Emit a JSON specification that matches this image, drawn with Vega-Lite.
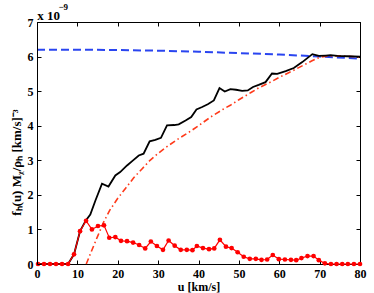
{
  "$schema": "https://vega.github.io/schema/vega-lite/v6.json",
  "autosize": {"type": "none"},
  "padding": {"left": 37, "top": 22, "right": 14, "bottom": 29},
  "width": 323,
  "height": 242,
  "background": "white",
  "config": {
    "view": {"stroke": "black", "strokeWidth": 1},
    "axis": {
      "grid": false,
      "domainColor": "black",
      "tickColor": "black",
      "labelColor": "black",
      "titleColor": "black",
      "labelFont": "Liberation Serif",
      "titleFont": "Liberation Serif",
      "labelFontWeight": "bold",
      "titleFontWeight": "bold",
      "labelFontSize": 12,
      "titleFontSize": 12,
      "tickSize": -4,
      "labelOverlap": false,
      "labelBound": false,
      "labelFlush": false
    }
  },
  "datasets": {
    "blue": [
      {"u": 0, "f": 6.2}, {"u": 10, "f": 6.2}, {"u": 20, "f": 6.19}, {"u": 30, "f": 6.17},
      {"u": 40, "f": 6.14}, {"u": 50, "f": 6.1}, {"u": 60, "f": 6.06}, {"u": 70, "f": 6.0}, {"u": 80, "f": 5.94}
    ],
    "dashdot": [
      {"u": 12.2, "f": 0}, {"u": 13.2, "f": 0.29}, {"u": 14.9, "f": 0.77}, {"u": 16.5, "f": 1.21},
      {"u": 18, "f": 1.55}, {"u": 20, "f": 1.9}, {"u": 22, "f": 2.2}, {"u": 24, "f": 2.5},
      {"u": 26, "f": 2.75}, {"u": 28, "f": 3.0}, {"u": 30, "f": 3.2}, {"u": 32, "f": 3.38},
      {"u": 35, "f": 3.62}, {"u": 38, "f": 3.84}, {"u": 40, "f": 4.0}, {"u": 43, "f": 4.25},
      {"u": 46, "f": 4.47}, {"u": 48, "f": 4.6}, {"u": 50, "f": 4.75}, {"u": 53, "f": 4.96},
      {"u": 55, "f": 5.1}, {"u": 58, "f": 5.27}, {"u": 60, "f": 5.4}, {"u": 63, "f": 5.57},
      {"u": 66, "f": 5.75}, {"u": 68, "f": 5.87}, {"u": 70, "f": 5.98}, {"u": 72, "f": 6.02},
      {"u": 75, "f": 6.02}, {"u": 78, "f": 6.0}, {"u": 80, "f": 5.98}
    ],
    "black": [
      {"u": 0.25, "f": 0}, {"u": 7.69, "f": 0}, {"u": 9.17, "f": 0.28}, {"u": 10.66, "f": 0.95},
      {"u": 12.1, "f": 1.26}, {"u": 13.2, "f": 1.43}, {"u": 14.45, "f": 1.83}, {"u": 16.1, "f": 2.32},
      {"u": 17.7, "f": 2.24}, {"u": 19.4, "f": 2.56}, {"u": 20.6, "f": 2.66}, {"u": 22.3, "f": 2.85},
      {"u": 23.5, "f": 2.97}, {"u": 25.2, "f": 3.14}, {"u": 26.4, "f": 3.19}, {"u": 27.9, "f": 3.55},
      {"u": 29.3, "f": 3.59}, {"u": 30.7, "f": 3.65}, {"u": 32.2, "f": 4.01}, {"u": 34.0, "f": 4.02},
      {"u": 35.1, "f": 4.04}, {"u": 36.8, "f": 4.15}, {"u": 38.2, "f": 4.25}, {"u": 39.5, "f": 4.47},
      {"u": 40.9, "f": 4.54}, {"u": 42.3, "f": 4.62}, {"u": 43.8, "f": 4.73}, {"u": 45.2, "f": 5.09},
      {"u": 46.5, "f": 4.99}, {"u": 47.9, "f": 5.06}, {"u": 49.3, "f": 5.04}, {"u": 50.8, "f": 5.01},
      {"u": 52.2, "f": 5.02}, {"u": 53.5, "f": 5.12}, {"u": 54.9, "f": 5.18}, {"u": 56.6, "f": 5.26},
      {"u": 58.2, "f": 5.51}, {"u": 59.5, "f": 5.5}, {"u": 61.6, "f": 5.58}, {"u": 63.6, "f": 5.67},
      {"u": 65.7, "f": 5.84}, {"u": 68.2, "f": 6.07}, {"u": 69.8, "f": 6.02}, {"u": 71.5, "f": 6.03},
      {"u": 72.7, "f": 6.04}, {"u": 74.4, "f": 6.02}, {"u": 76.8, "f": 6.01}, {"u": 80, "f": 6.0}
    ],
    "dots": [
      {"u": 0.25, "f": 0}, {"u": 1.74, "f": 0}, {"u": 3.22, "f": 0}, {"u": 4.71, "f": 0},
      {"u": 6.2, "f": 0}, {"u": 7.69, "f": 0}, {"u": 9.17, "f": 0.28}, {"u": 10.66, "f": 0.95},
      {"u": 12.15, "f": 1.25}, {"u": 13.6, "f": 1.0}, {"u": 15.1, "f": 1.1}, {"u": 16.6, "f": 1.12},
      {"u": 17.9, "f": 0.76}, {"u": 19.4, "f": 0.78}, {"u": 20.8, "f": 0.67}, {"u": 22.3, "f": 0.66},
      {"u": 23.8, "f": 0.62}, {"u": 25.3, "f": 0.55}, {"u": 26.8, "f": 0.45}, {"u": 28.2, "f": 0.65},
      {"u": 29.7, "f": 0.52}, {"u": 31.2, "f": 0.41}, {"u": 32.6, "f": 0.68}, {"u": 34.1, "f": 0.53},
      {"u": 35.6, "f": 0.41}, {"u": 37.1, "f": 0.41}, {"u": 38.5, "f": 0.4}, {"u": 39.6, "f": 0.52},
      {"u": 41.1, "f": 0.46}, {"u": 42.6, "f": 0.43}, {"u": 43.9, "f": 0.45}, {"u": 45.3, "f": 0.7},
      {"u": 46.8, "f": 0.5}, {"u": 48.2, "f": 0.46}, {"u": 49.7, "f": 0.34}, {"u": 51.2, "f": 0.21},
      {"u": 52.7, "f": 0.15}, {"u": 54.2, "f": 0.15}, {"u": 55.6, "f": 0.12}, {"u": 57.0, "f": 0.13},
      {"u": 58.4, "f": 0.26}, {"u": 59.9, "f": 0.14}, {"u": 61.4, "f": 0.13}, {"u": 62.9, "f": 0.12},
      {"u": 64.2, "f": 0.11}, {"u": 65.5, "f": 0.17}, {"u": 67.0, "f": 0.23}, {"u": 68.5, "f": 0.23},
      {"u": 69.8, "f": 0.11}, {"u": 71.3, "f": 0.02}, {"u": 72.8, "f": 0}, {"u": 74.2, "f": 0},
      {"u": 75.6, "f": 0}, {"u": 77.0, "f": 0}, {"u": 78.5, "f": 0}, {"u": 80, "f": 0}
    ],
    "notes": [
      {"u": 0.05, "f": 7.06, "label": "x 10", "size": 13},
      {"u": 5.3, "f": 7.34, "label": "−9", "size": 9}
    ]
  },
  "resolve": {"axis": {"x": "independent", "y": "independent"}},
  "layer": [
    {
      "data": {"name": "blue"},
      "mark": {"type": "line", "color": "#2a45f0", "strokeWidth": 2, "strokeDash": [8, 4]},
      "encoding": {
        "x": {"field": "u", "type": "quantitative",
              "scale": {"domain": [0, 80], "nice": false},
              "axis": {"orient": "bottom", "values": [0, 10, 20, 30, 40, 50, 60, 70, 80], "title": "u [km/s]", "labelPadding": 8, "titlePadding": 2, "labelOverlap": false, "labelBound": false, "labelFlush": false}},
        "y": {"field": "f", "type": "quantitative",
              "scale": {"domain": [0, 7], "nice": false},
              "axis": {"orient": "left", "values": [0, 1, 2, 3, 4, 5, 6, 7], "title": "fₕ(u) Mᵪ/ρₕ [km/s]⁻³", "titleFontSize": 13, "labelPadding": 8, "titleY": 140, "labelOverlap": false, "labelBound": false, "labelFlush": false, "zindex": 2}}
      }
    },
    {
      "data": {"name": "blue"},
      "mark": {"type": "line", "opacity": 0},
      "encoding": {
        "x": {"field": "u", "type": "quantitative",
              "axis": {"orient": "top", "values": [0, 10, 20, 30, 40, 50, 60, 70, 80], "labels": false, "title": null}},
        "y": {"field": "f", "type": "quantitative",
              "axis": {"orient": "right", "values": [0, 1, 2, 3, 4, 5, 6, 7], "labels": false, "title": null}}
      }
    },
    {
      "data": {"name": "dashdot"},
      "mark": {"type": "line", "color": "#ff3a1a", "strokeWidth": 1.6, "strokeDash": [6, 3, 1.5, 3]},
      "encoding": {
        "x": {"field": "u", "type": "quantitative", "axis": null},
        "y": {"field": "f", "type": "quantitative", "axis": null}
      }
    },
    {
      "data": {"name": "black"},
      "mark": {"type": "line", "color": "black", "strokeWidth": 1.8},
      "encoding": {
        "x": {"field": "u", "type": "quantitative", "axis": null},
        "y": {"field": "f", "type": "quantitative", "axis": null}
      }
    },
    {
      "data": {"name": "dots"},
      "mark": {"type": "line", "color": "#ff0000", "strokeWidth": 1.2, "point": {"filled": true, "size": 22, "color": "#ff0000"}},
      "encoding": {
        "x": {"field": "u", "type": "quantitative", "axis": null},
        "y": {"field": "f", "type": "quantitative", "axis": null}
      }
    },
    {
      "data": {"name": "notes"},
      "mark": {"type": "text", "font": "Liberation Serif", "fontWeight": "bold", "align": "left", "baseline": "alphabetic", "color": "black", "clip": false},
      "encoding": {
        "x": {"field": "u", "type": "quantitative", "axis": null},
        "y": {"field": "f", "type": "quantitative", "axis": null},
        "text": {"field": "label"},
        "size": {"field": "size", "type": "quantitative", "scale": null, "legend": null}
      }
    },
    {
      "mark": {"type": "text", "text": "SHM", "font": "Liberation Serif", "fontWeight": "bold", "fontSize": 12, "align": "left", "baseline": "alphabetic", "color": "black"},
      "encoding": {
        "x": {"datum": 2.8, "axis": null},
        "y": {"datum": 6.62, "axis": null}
      }
    }
  ]
}
